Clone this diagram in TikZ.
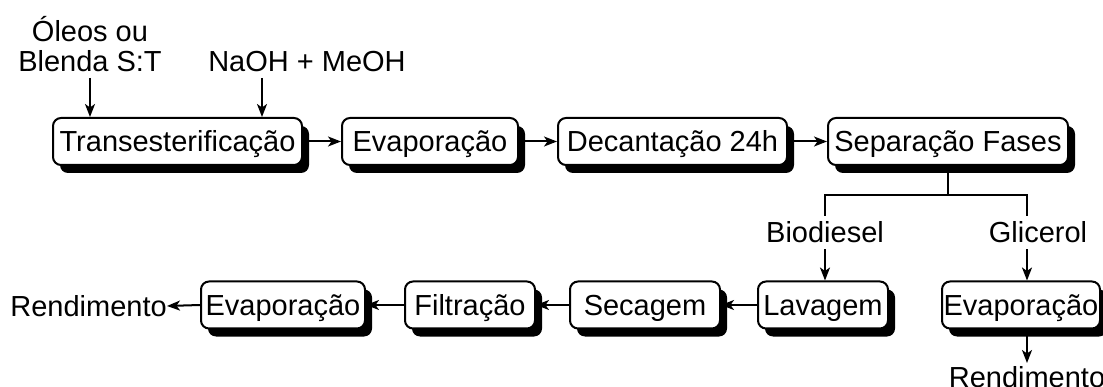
\documentclass[tikz,border=0pt]{standalone}
\usepackage{fontspec}
\setmainfont{Liberation Sans}
\usetikzlibrary{arrows.meta,shadows}
\begin{document}
\begin{tikzpicture}[x=1pt,y=-1pt,
  every node/.style={font=\fontsize{29}{30}\selectfont},
  proc/.style={draw, line width=2pt, rounded corners=8pt, fill=white, inner sep=0pt,
    minimum height=47pt, text height=20.8pt, text depth=0pt,
    drop shadow={shadow xshift=7pt, shadow yshift=-8pt, fill=black, opacity=1}},
  lbl/.style={inner sep=6pt, text height=20.8pt, text depth=0pt},
  arr/.style={line width=2pt, -{Stealth[length=13pt,width=10pt,inset=3.5pt]}},
  link/.style={line width=2pt}]
\useasboundingbox (0,0) rectangle (1103,387);

% process steps
\node[proc, minimum width=249pt] (trans) at (177.5,141.5) {Transesterificação};
\node[proc, minimum width=176pt] (evap1) at (430,141.5) {Evaporação};
\node[proc, minimum width=229pt] (dec)   at (672.5,141.5) {Decantação 24h};
\node[proc, minimum width=240pt] (sep)   at (948,141.5) {Separação Fases};
\node[proc, minimum width=130pt] (lav)   at (823,305) {Lavagem};
\node[proc, minimum width=150pt] (sec)   at (645,305) {Secagem};
\node[proc, minimum width=130pt] (fil)   at (470,305) {Filtração};
\node[proc, minimum width=164pt] (evap2) at (283,305) {Evaporação};
\node[proc, minimum width=158pt] (evap3) at (1021,305) {Evaporação};

% inputs and outputs
\node[lbl, align=center, anchor=south] (oleo) at (90,78) {Óleos ou\\Blenda S:T};
\node[lbl, anchor=south] (naoh) at (307,78) {NaOH + MeOH};
\node[lbl] (bio) at (825,232.5) {Biodiesel};
\node[lbl] (gli) at (1038,232.5) {Glicerol};
\node[inner sep=0pt, text height=20.8pt, text depth=0pt, anchor=east] (rend1) at (167,306) {Rendimento};
\node[inner sep=3pt, text height=20.8pt, text depth=0pt, anchor=north] (rend2) at (1027,363) {Rendimento};

\coordinate (nx) at (262,0);
\coordinate (gx) at (1027,0);
\coordinate (fork) at (948,195);

% feeds
\draw[arr] (oleo.south) -- (oleo.south |- trans.north);
\draw[arr] (naoh.south -| nx) -- (trans.north -| nx);

% main line
\draw[arr] (trans.east) -- (evap1.west);
\draw[arr] (evap1.east) -- (dec.west);
\draw[arr] (dec.east) -- (sep.west);

% phase split
\draw[link] (sep.south) -- (fork);
\draw[link] (bio.north) |- (fork) -| (gli.north -| gx);
\draw[arr] (bio.south) -- (bio.south |- lav.north);
\draw[arr] (gli.south -| gx) -- (evap3.north -| gx);
\draw[arr] (evap3.south -| gx) -- (rend2.north);

% biodiesel purification
\draw[arr] (lav.west) -- (sec.east);
\draw[arr] (sec.west) -- (fil.east);
\draw[arr] (fil.west) -- (evap2.east);
\draw[arr] (evap2.west) -- (rend1.east);
\end{tikzpicture}
\end{document}
